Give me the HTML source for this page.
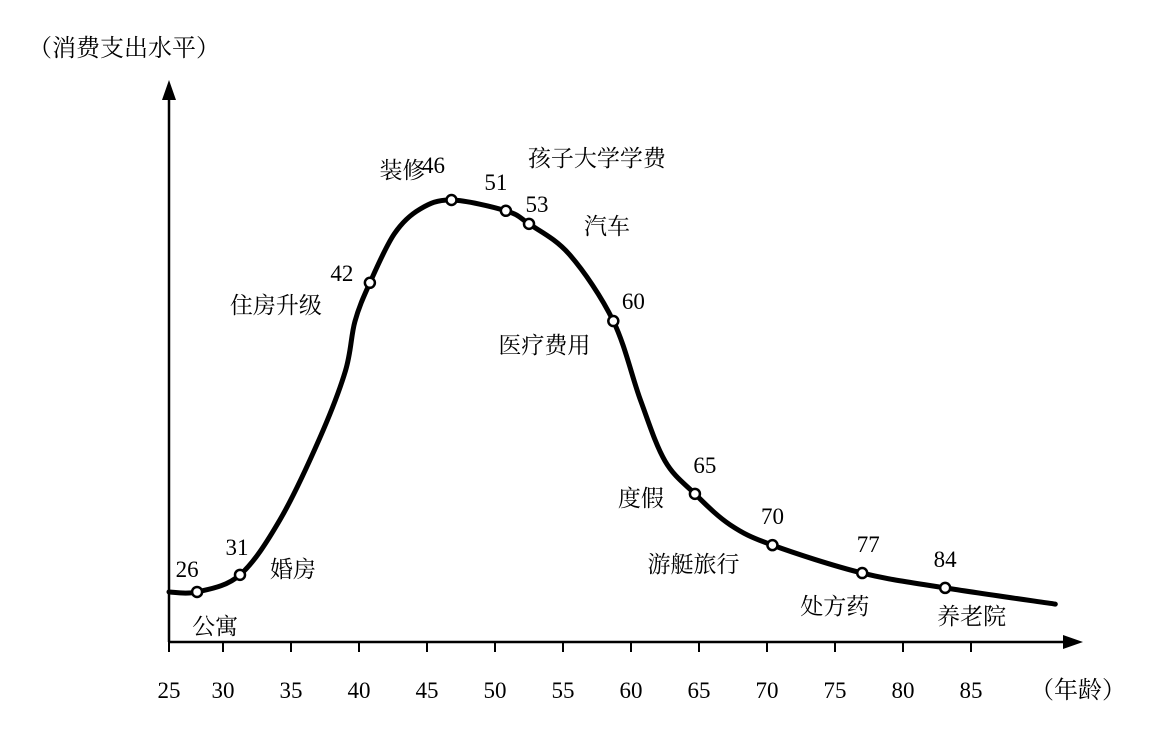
<!DOCTYPE html>
<html><head><meta charset="utf-8">
<style>
body{margin:0;background:#fff;}
svg text{font-family:"Liberation Serif","Noto Serif CJK SC",serif;fill:#000;}
</style></head>
<body>
<svg id="chart" width="1157" height="742" viewBox="0 0 1157 742">
<g id="axes"></g>
<g id="marks"></g>
<g id="labels"></g>
</svg>
<script>
const tickAges = [25,30,35,40,45,50,55,60,65,70,75,80,85];
const tickLabels = ["25","30","35","40","45","50","55","60","65","70","75","80","85"];
const curveAges = [25,27.6,31.25,34.2,37.1,39.0,39.7,40.8,42.6,44.5,46.8,50.8,52.5,55.5,58.7,60.7,62.5,64.7,67.3,70.4,77.0,83.1,91.2];
const curveLevels = [10.9,10.9,14.7,27,45,60,71,79.6,90.5,96,98,95.6,92.7,85.8,71.1,53.5,40,32.7,25.8,21.3,15.1,11.8,8.2];
const dotAges = [27.6,31.25,40.8,46.8,50.8,52.5,58.7,64.7,70.4,77.0,83.1];
const dotLevels = [10.9,14.7,79.6,98,95.6,92.7,71.1,32.7,21.3,15.1,11.8];
const dotLabels = ["26","31","42","46","51","53","60","65","70","77","84"];
const eventLabels = ["公寓","婚房","住房升级","装修","孩子大学学费","汽车","医疗费用","度假","游艇旅行","处方药","养老院"];
const eventOffsets = [[-5,42],[30,2],[-140,30],[-72,-22],[22,-45],[55,10],[-115,32],[-77,12],[-125,27],[-62,41],[-8,36]];
const numOffsets = [[-10,-15],[-3,-20],[-28,-2],[-18,-27],[-10,-21],[8,-12],[20,-12],[10,-21],[0,-21],[6,-21],[0,-21]];

const NS="http://www.w3.org/2000/svg";
function x(a){return a<30?169+(a-25)*10.8:223+(a-30)*13.6;}
function y(v){return 641-v*4.5;}
function mk(tag,attrs,parent){const e=document.createElementNS(NS,tag);for(const k in attrs)e.setAttribute(k,attrs[k]);parent.appendChild(e);return e;}
const axes=document.getElementById('axes'),marks=document.getElementById('marks'),labels=document.getElementById('labels');

let ya=mk('line',{x1:169,y1:642,x2:169,y2:95,stroke:'#000','stroke-width':2.5},axes);


let yh=mk('polygon',{points:'169,80 162,100 176,100',fill:'#000'},axes);


let xa=mk('line',{x1:169,y1:642,x2:1068,y2:642,stroke:'#000','stroke-width':2.5},axes);


let xh=mk('polygon',{points:'1083,642 1063,635 1063,649',fill:'#000'},axes);


tickAges.forEach((a,i)=>{
 let t=mk('line',{x1:x(a),y1:642,x2:x(a),y2:652,stroke:'#000','stroke-width':2},axes);
 
 
 let l=mk('text',{x:x(a),y:698,'text-anchor':'middle','font-size':23},axes);
 l.textContent=tickLabels[i];
 
 
});
let yt=mk('text',{x:28,y:56,'font-size':24},axes);
yt.textContent='（消费支出水平）';


let xt=mk('text',{x:1030,y:698,'font-size':24},axes);
xt.textContent='（年龄）';



// catmull-rom curve
const P=curveAges.map((a,i)=>[x(a),y(curveLevels[i])]);
let d='M'+P[0][0]+','+P[0][1];
for(let i=0;i<P.length-1;i++){
 const p0=P[Math.max(0,i-1)],p1=P[i],p2=P[i+1],p3=P[Math.min(P.length-1,i+2)];
 const c1=[p1[0]+(p2[0]-p0[0])/6,p1[1]+(p2[1]-p0[1])/6];
 const c2=[p2[0]-(p3[0]-p1[0])/6,p2[1]-(p3[1]-p1[1])/6];
 d+=' C'+c1[0]+','+c1[1]+' '+c2[0]+','+c2[1]+' '+p2[0]+','+p2[1];
}
let cv=mk('path',{d:d,fill:'none',stroke:'#000','stroke-width':5,'stroke-linecap':'round'},marks);



dotAges.forEach((a,i)=>{
 const cx=x(a),cy=y(dotLevels[i]);
 let c=mk('circle',{cx:cx,cy:cy,r:5,fill:'#fff',stroke:'#000','stroke-width':2.5},marks);
 
 
 let n=mk('text',{x:cx+numOffsets[i][0],y:cy+numOffsets[i][1],'text-anchor':'middle','font-size':23},labels);
 n.textContent=dotLabels[i];
 
 
 let e=mk('text',{x:cx+eventOffsets[i][0],y:cy+eventOffsets[i][1],'font-size':23},labels);
 e.textContent=eventLabels[i];
 
 
});
</script>
</body></html>
